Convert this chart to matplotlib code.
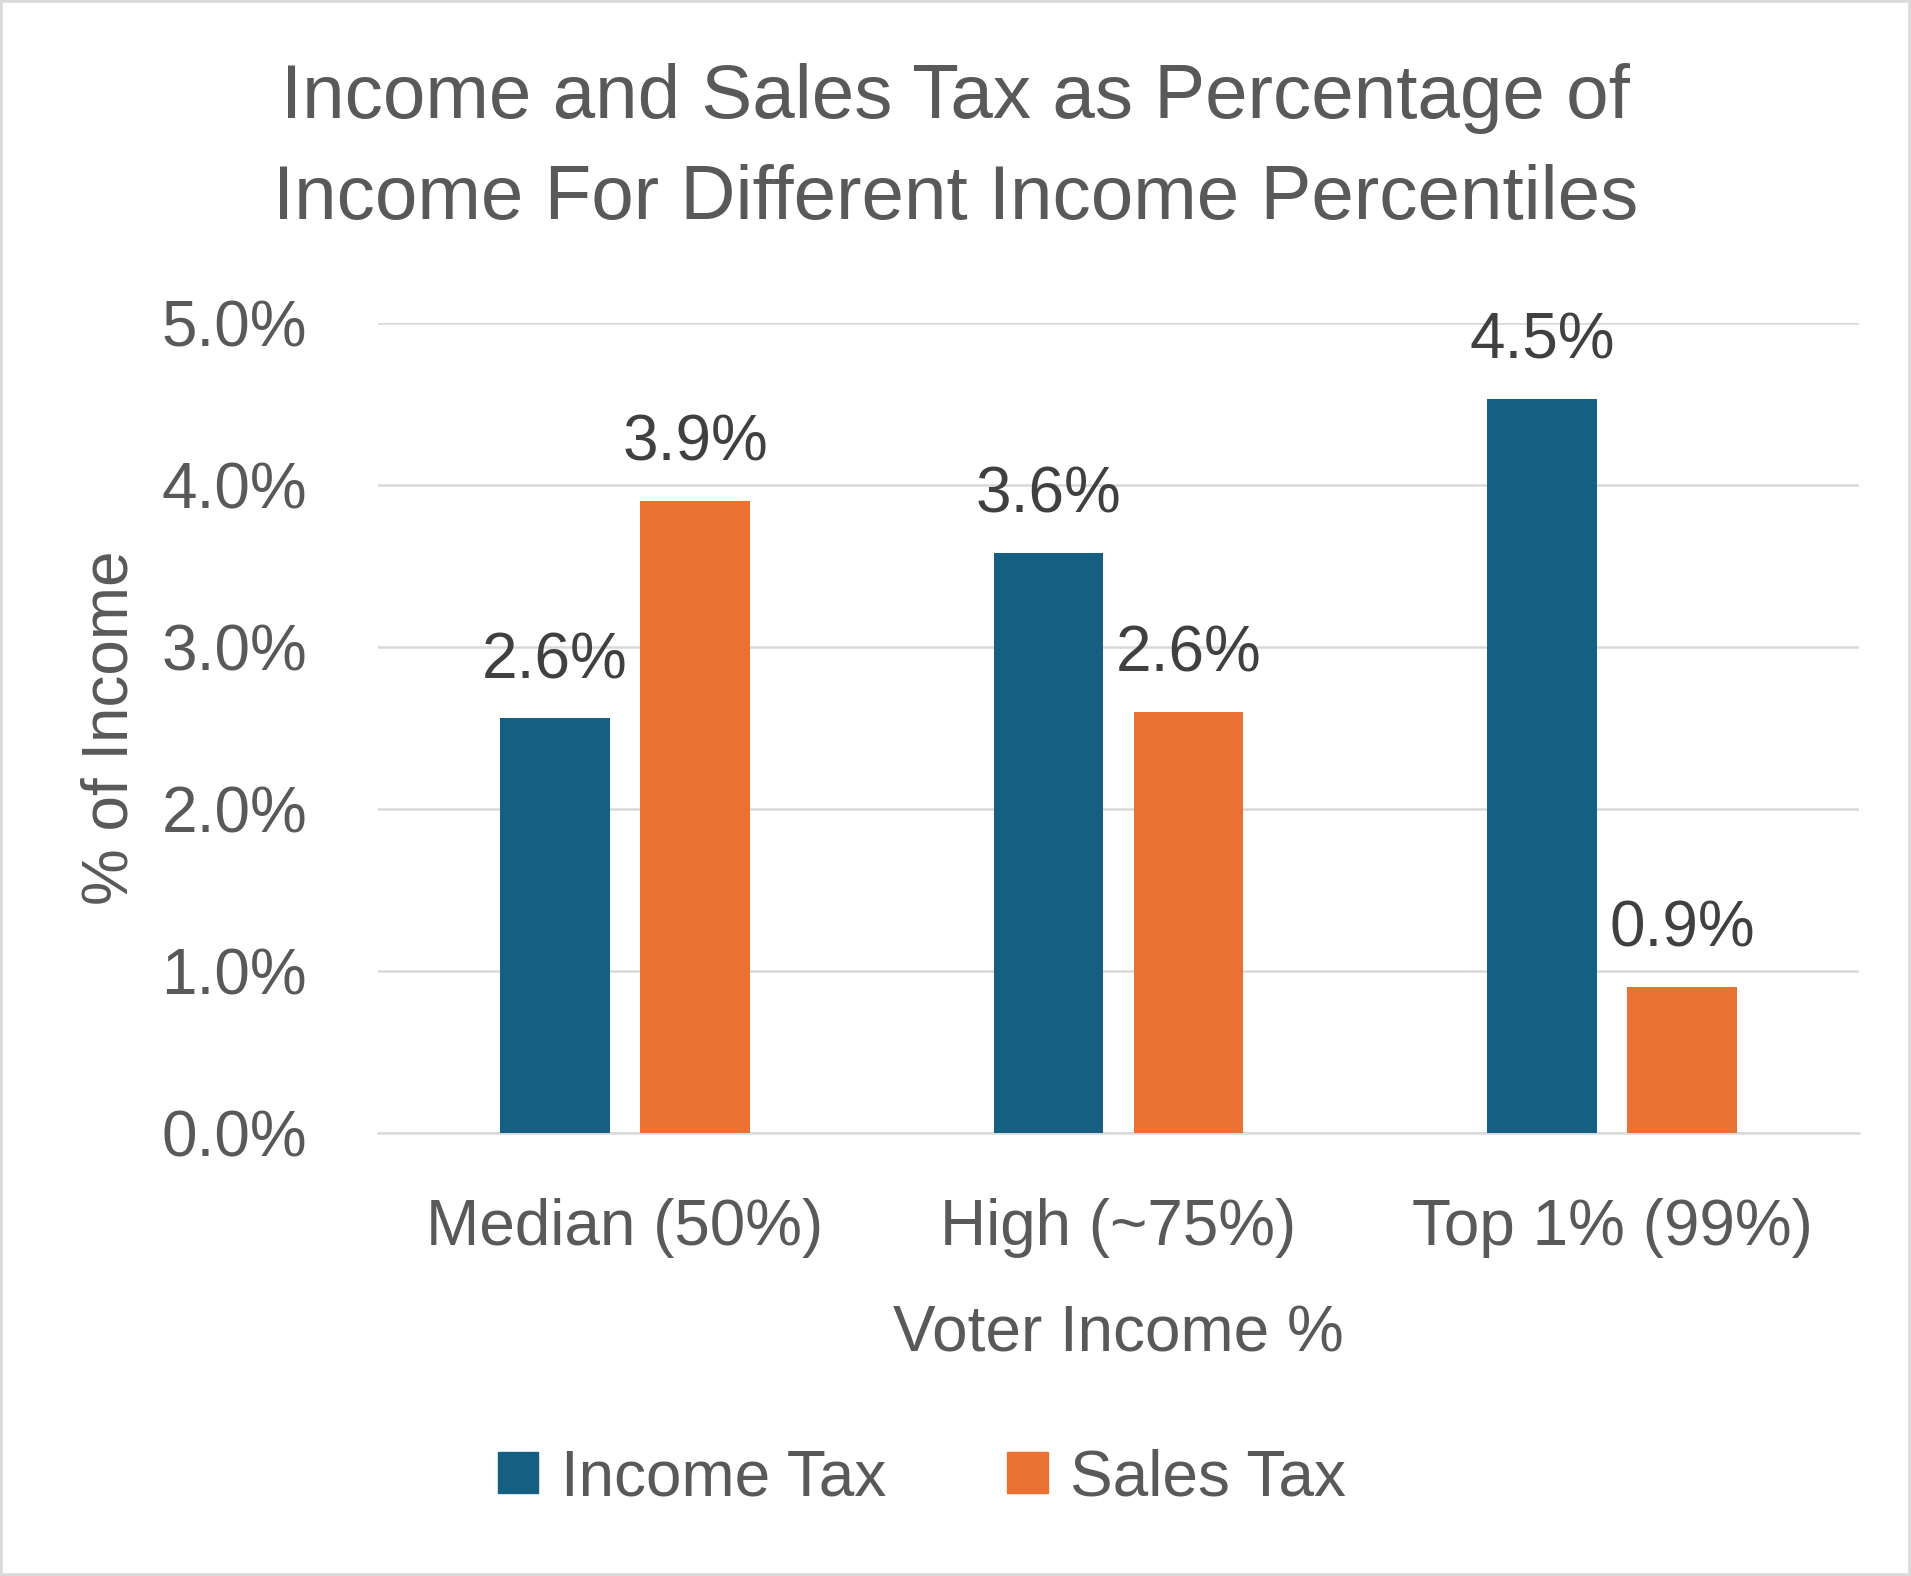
import matplotlib
matplotlib.use("Agg")
import matplotlib.pyplot as plt
from matplotlib.patches import Patch, Rectangle
import numpy as np

categories = ["Median (50%)", "High (~75%)", "Top 1% (99%)"]
income_tax = [2.56, 3.58, 4.53]
sales_tax = [3.9, 2.6, 0.9]
series_names = ["Income Tax", "Sales Tax"]
yticks = [0, 1, 2, 3, 4, 5]

BLUE = "#156082"
ORANGE = "#E97132"
TEXT = "#595959"
LABEL = "#404040"
GRID = "#D9D9D9"

plt.rcParams["font.family"] = ["Liberation Sans", "DejaVu Sans"]

W, H = 1911, 1576
fig = plt.figure(figsize=(W / 100, H / 100), dpi=100)
ax = fig.add_axes([378 / W, 1 - 1133 / H, 1481 / W, 810 / H])

x = np.arange(len(categories))
bw = 0.222
off = 0.142
b1 = ax.bar(x - off, income_tax, bw, color=BLUE, zorder=3)
b2 = ax.bar(x + off, sales_tax, bw, color=ORANGE, zorder=3)

# value labels above each bar
for bars, vals in ((b1, income_tax), (b2, sales_tax)):
    for r, v in zip(bars, vals):
        ax.annotate(f"{v:.1f}%", (r.get_x() + r.get_width() / 2, v),
                    xytext=(0, 29), textcoords="offset points",
                    ha="center", va="baseline", fontsize=46, color=LABEL)

ax.set_xlim(-0.5, len(categories) - 0.5)
ax.set_ylim(0, 5)
ax.set_yticks(yticks)
ax.set_yticklabels([f"{t:.1f}%" for t in yticks])
ax.set_xticks(x)
ax.set_xticklabels(categories)
ax.tick_params(axis="both", length=0, labelsize=46, labelcolor=TEXT)
ax.tick_params(axis="y", pad=51)
ax.tick_params(axis="x", pad=47)
ax.grid(axis="y", color=GRID, linewidth=1.8, zorder=0)
for s in ("top", "right", "left"):
    ax.spines[s].set_visible(False)
ax.spines["bottom"].set_color(GRID)
ax.spines["bottom"].set_linewidth(1.8)

fig.text(0.5, 1 - 149 / H,
         "Income and Sales Tax as Percentage of\nIncome For Different Income Percentiles",
         ha="center", va="center", fontsize=55, color=TEXT, linespacing=1.55)
fig.text(1118 / W, 1 - 1352 / H, "Voter Income %", ha="center", va="baseline",
         fontsize=46, color=TEXT)
fig.text(111 / W, 1 - 728 / H, "% of Income", rotation=90, ha="center",
         va="center", fontsize=46, color=TEXT)

handles = [Patch(color=BLUE, label=series_names[0]),
           Patch(color=ORANGE, label=series_names[1])]
fig.legend(handles=handles, loc="center", bbox_to_anchor=(922 / W, 1 - 1478 / H),
           ncol=2, frameon=False, fontsize=46, labelcolor=TEXT,
           handlelength=0.63, handleheight=0.63, handletextpad=0.35,
           columnspacing=1.9)

fig.patches.append(Rectangle((0, 0), 1, 1, transform=fig.transFigure,
                             fill=False, edgecolor=GRID, linewidth=4))

fig.savefig("out.png", dpi=100)
